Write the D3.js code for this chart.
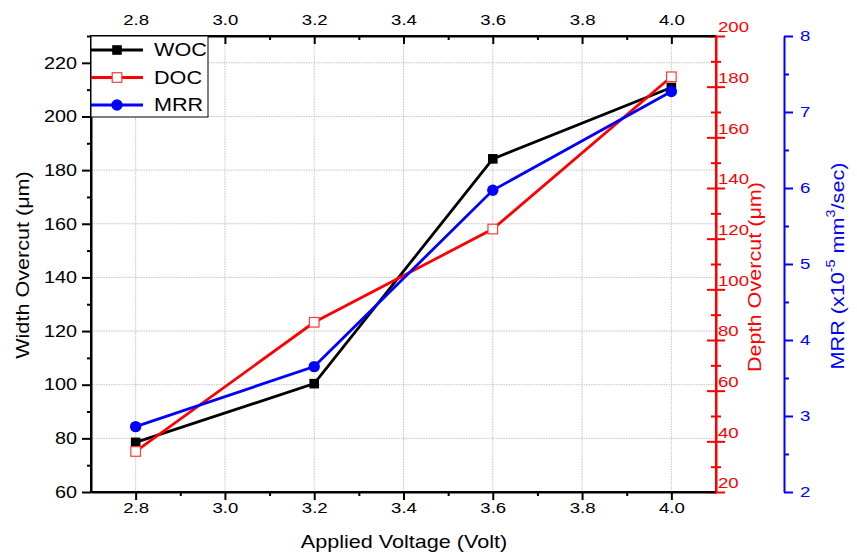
<!DOCTYPE html>
<html>
<head>
<meta charset="utf-8">
<script src="https://cdn.jsdelivr.net/npm/d3@7"></script>
<style>
  body { margin: 0; background: #fff; }
  svg { display: block; font-family: "Liberation Sans", Arial, sans-serif; }
</style>
</head>
<body>
<div id="mainDiv"></div>
<script>
const voltages = [2.8, 3.2, 3.6, 4.0];
const wocValues = [78.5, 100.4, 184.2, 210.8];
const docValues = [36.0, 87.0, 123.8, 183.9];
const mrrValues = [2.86, 3.65, 5.97, 7.27];

const xMajorTicks = [2.8, 3.0, 3.2, 3.4, 3.6, 3.8, 4.0];
const xMinorTicks = [2.9, 3.1, 3.3, 3.5, 3.7, 3.9];
const wocMajorTicks = [60, 80, 100, 120, 140, 160, 180, 200, 220];
const wocMinorTicks = [70, 90, 110, 130, 150, 170, 190, 210, 230];
const docMajorTicks = [20, 40, 60, 80, 100, 120, 140, 160, 180, 200];
const docMinorTicks = [30, 50, 70, 90, 110, 130, 150, 170, 190];
const mrrMajorTicks = [2, 3, 4, 5, 6, 7, 8];
const mrrMinorTicks = [2.5, 3.5, 4.5, 5.5, 6.5, 7.5];

const chartSize = {
  width: 857,
  height: 555,
  left: 91,
  right: 716,
  top: 36,
  bottom: 492,
  mrrAxisX: 784,
};

// the original picture is stretched sideways a bit, so text is too
const textStretch = 1.2;

function stretchText(sel) {
  sel.each(function () {
    const t = d3.select(this);
    const x = +t.attr("x") || 0;
    t.attr("x", x / textStretch).attr("transform", `scale(${textStretch},1)`);
  });
}

const x = d3.scaleLinear().domain([2.7, 4.1]).range([chartSize.left, chartSize.right]);
const yWoc = d3.scaleLinear().domain([60, 230]).range([chartSize.bottom, chartSize.top]);
const yDoc = d3.scaleLinear().domain([20, 200]).range([chartSize.bottom, chartSize.top]);
const yMrr = d3.scaleLinear().domain([2, 8]).range([chartSize.bottom, chartSize.top]);

const series = [
  { name: "WOC", values: wocValues, y: yWoc, color: "#000", marker: "square" },
  { name: "DOC", values: docValues, y: yDoc, color: "#ff0000", marker: "openSquare" },
  { name: "MRR", values: mrrValues, y: yMrr, color: "#0000ff", marker: "circle" },
];

const svg = d3.select("#mainDiv")
  .append("svg")
  .attr("width", chartSize.width)
  .attr("height", chartSize.height);

// grid
const grid = svg.append("g")
  .attr("stroke", "#c4c4c4")
  .attr("stroke-width", 1)
  .attr("stroke-dasharray", "1.5,1");

grid.selectAll("line.vx")
  .data(xMajorTicks)
  .join("line")
  .attr("x1", d => x(d)).attr("x2", d => x(d))
  .attr("y1", chartSize.top).attr("y2", chartSize.bottom);

grid.selectAll("line.hy")
  .data(wocMajorTicks.slice(1))
  .join("line")
  .attr("x1", chartSize.left).attr("x2", chartSize.right)
  .attr("y1", d => yWoc(d)).attr("y2", d => yWoc(d));

function styleAxis(g, color, fontSize) {
  g.attr("font-family", null).attr("font-size", null);
  g.selectAll("path").attr("stroke", color).attr("stroke-width", 2);
  g.selectAll(".tick line").attr("stroke", color).attr("stroke-width", 2);
  g.selectAll(".tick text").attr("fill", color).attr("font-size", fontSize);
}

// bottom axis
svg.append("g")
  .attr("transform", `translate(0,${chartSize.bottom})`)
  .call(d3.axisBottom(x).tickValues(xMinorTicks).tickSize(4).tickFormat(""))
  .call(g => styleAxis(g, "#000", 15))
  .call(g => g.select("path").remove());

svg.append("g")
  .attr("transform", `translate(0,${chartSize.bottom})`)
  .call(d3.axisBottom(x).tickValues(xMajorTicks).tickSizeInner(8).tickSizeOuter(0)
    .tickPadding(2).tickFormat(d3.format(".1f")))
  .call(g => styleAxis(g, "#000", 15.5))
  .call(g => stretchText(g.selectAll(".tick text")));

// top axis, ticks point inward
svg.append("g")
  .attr("transform", `translate(0,${chartSize.top})`)
  .call(d3.axisTop(x).tickValues(xMinorTicks).tickSize(-4).tickFormat(""))
  .call(g => styleAxis(g, "#000", 15))
  .call(g => g.select("path").remove());

svg.append("g")
  .attr("transform", `translate(0,${chartSize.top})`)
  .call(d3.axisTop(x).tickValues(xMajorTicks).tickSizeInner(-8).tickSizeOuter(0)
    .tickPadding(11).tickFormat(d3.format(".1f")))
  .call(g => styleAxis(g, "#000", 15.5))
  .call(g => stretchText(g.selectAll(".tick text")));

// left axis
svg.append("g")
  .attr("transform", `translate(${chartSize.left},0)`)
  .call(d3.axisLeft(yWoc).tickValues(wocMinorTicks).tickSize(4).tickFormat(""))
  .call(g => styleAxis(g, "#000", 16.5))
  .call(g => g.select("path").remove());

svg.append("g")
  .attr("transform", `translate(${chartSize.left},0)`)
  .call(d3.axisLeft(yWoc).tickValues(wocMajorTicks).tickSizeInner(9).tickSizeOuter(0)
    .tickPadding(5).tickFormat(d3.format("d")))
  .call(g => styleAxis(g, "#000", 16.5))
  .call(g => stretchText(g.selectAll(".tick text")));

// red axis on the plot's right edge, ticks cross the line
svg.append("g")
  .attr("transform", `translate(${chartSize.right},0)`)
  .call(d3.axisRight(yDoc).tickValues(docMinorTicks).tickSize(5).tickFormat(""))
  .call(g => styleAxis(g, "#ff0000", 15))
  .call(g => g.select("path").remove())
  .call(g => g.selectAll(".tick line").attr("x1", -5));

svg.append("g")
  .attr("transform", `translate(${chartSize.right},0)`)
  .call(d3.axisRight(yDoc).tickValues(docMajorTicks).tickSizeInner(9).tickSizeOuter(0)
    .tickPadding(-7).tickFormat(d3.format("d")))
  .call(g => styleAxis(g, "#ff0000", 15.5))
  .call(g => g.selectAll(".tick line").attr("x1", -9))
  .call(g => g.selectAll(".tick text").attr("y", -9))
  .call(g => stretchText(g.selectAll(".tick text")));

// blue axis
svg.append("g")
  .attr("transform", `translate(${chartSize.mrrAxisX},0)`)
  .call(d3.axisRight(yMrr).tickValues(mrrMinorTicks).tickSize(5).tickFormat(""))
  .call(g => styleAxis(g, "#0000ff", 15))
  .call(g => g.select("path").remove());

svg.append("g")
  .attr("transform", `translate(${chartSize.mrrAxisX},0)`)
  .call(d3.axisRight(yMrr).tickValues(mrrMajorTicks).tickSizeInner(9).tickSizeOuter(0)
    .tickPadding(7).tickFormat(d3.format("d")))
  .call(g => styleAxis(g, "#0000ff", 15.5))
  .call(g => stretchText(g.selectAll(".tick text")));

// axis titles
function addTitle(tx, ty, rotate, color) {
  return svg.append("text")
    .attr("transform", `translate(${tx},${ty}) rotate(${rotate}) scale(${textStretch},1)`)
    .attr("text-anchor", "middle")
    .attr("dominant-baseline", "central")
    .attr("font-size", 18)
    .attr("fill", color);
}

addTitle(404, 542, 0, "#000").text("Applied Voltage (Volt)");
addTitle(23, 265, -90, "#000").text("Width Overcut (\u03bcm)");
addTitle(755, 277, -90, "#ff0000").text("Depth Overcut (\u03bcm)");

const mrrTitle = addTitle(838, 266, -90, "#0000ff");
mrrTitle.append("tspan").text("MRR (x10");
mrrTitle.append("tspan").attr("font-size", 12).attr("dy", -8).text("-5");
mrrTitle.append("tspan").attr("dy", 8).text(" mm");
mrrTitle.append("tspan").attr("font-size", 12).attr("dy", -8).text("3");
mrrTitle.append("tspan").attr("dy", 8).text("/sec)");

// lines and markers
function drawMarker(g, kind, color, cx, cy) {
  if (kind === "circle") {
    g.append("circle").attr("cx", cx).attr("cy", cy).attr("r", 5.7).attr("fill", color);
  } else if (kind === "square") {
    g.append("rect").attr("x", cx - 4.8).attr("y", cy - 4.8)
      .attr("width", 9.6).attr("height", 9.6).attr("fill", color);
  } else {
    g.append("rect").attr("x", cx - 4.8).attr("y", cy - 4.8)
      .attr("width", 9.6).attr("height", 9.6)
      .attr("fill", "#fff").attr("stroke", "#ff3b3b").attr("stroke-width", 1.2);
  }
}

series.forEach(s => {
  const line = d3.line()
    .x((d, i) => x(voltages[i]))
    .y(d => s.y(d));

  svg.append("path")
    .datum(s.values)
    .attr("d", line)
    .attr("fill", "none")
    .attr("stroke", s.color)
    .attr("stroke-width", 2.8);

  const markers = svg.append("g");
  s.values.forEach((v, i) => drawMarker(markers, s.marker, s.color, x(voltages[i]), s.y(v)));
});

// plot frame: black left, top and bottom lines over the data
svg.append("path")
  .attr("d", `M${chartSize.right},${chartSize.top}H${chartSize.left}V${chartSize.bottom}H${chartSize.right}`)
  .attr("fill", "none")
  .attr("stroke", "#000")
  .attr("stroke-width", 2);
svg.append("line")
  .attr("x1", chartSize.right).attr("x2", chartSize.right)
  .attr("y1", chartSize.top).attr("y2", chartSize.bottom)
  .attr("stroke", "#ff0000").attr("stroke-width", 2);

// legend
const legend = svg.append("g");
legend.append("rect")
  .attr("x", chartSize.left).attr("y", chartSize.top)
  .attr("width", 117).attr("height", 81)
  .attr("fill", "#fff").attr("stroke", "#000").attr("stroke-width", 1);

series.forEach((s, i) => {
  const ly = 50 + i * 27.5;
  legend.append("line")
    .attr("x1", chartSize.left).attr("x2", 143)
    .attr("y1", ly).attr("y2", ly)
    .attr("stroke", s.color).attr("stroke-width", 2.8);
  drawMarker(legend, s.marker, s.color, 117, ly);
  legend.append("text")
    .attr("transform", `translate(154,${ly}) scale(${textStretch},1)`)
    .attr("dominant-baseline", "central")
    .attr("font-size", 18)
    .text(s.name);
});
</script>
</body>
</html>
